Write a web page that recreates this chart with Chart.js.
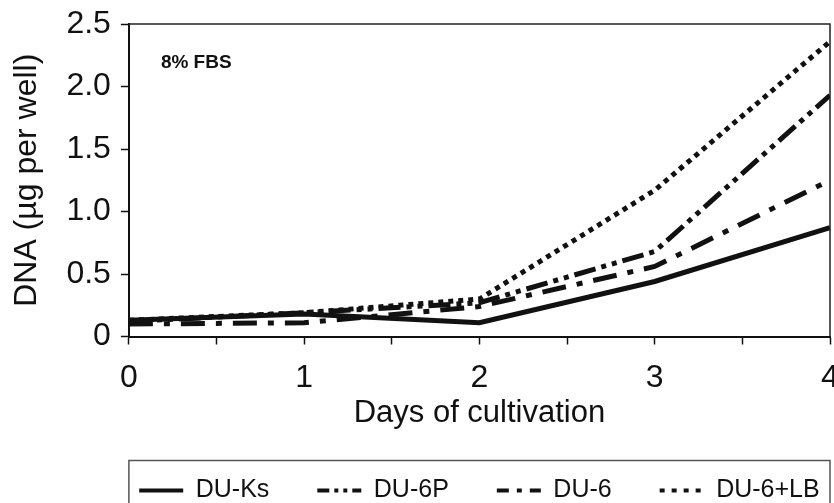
<!DOCTYPE html>
<html>
<head>
<meta charset="utf-8">
<script src="https://cdn.jsdelivr.net/npm/chart.js@4"></script>
<style>
  html, body { margin: 0; padding: 0; background: #fff; }
  #wrap { width: 834px; height: 503px; position: relative; }
</style>
</head>
<body>
<div id="wrap"><canvas id="c" width="834" height="503"></canvas></div>
<script>
// ---- data ----
const days = [0, 1, 2, 3, 4];
const seriesNames = ["DU-Ks", "DU-6P", "DU-6", "DU-6+LB"];
const duKs   = [0.13, 0.18, 0.11, 0.44, 0.87];
const du6P   = [0.12, 0.19, 0.27, 0.68, 1.93];
const du6    = [0.10, 0.11, 0.24, 0.56, 1.25];
const du6LB  = [0.13, 0.19, 0.30, 1.17, 2.36];
const yTickValues = [0, 0.5, 1.0, 1.5, 2.0, 2.5];
const xTickLabels = ["0", "1", "2", "3", "4"];
const panelLabel = "8% FBS";

// ---- styles ----
const values = [duKs, du6P, du6, du6LB];
const dashes = [[], [22, 6, 5, 6, 5, 6], [24, 11, 6, 11], [5, 5]];
const legendDashes = [[], [12, 5, 4, 5, 4, 5], [12, 8, 5, 8], [5, 7]];
const FONT = "'Liberation Sans', Arial, Helvetica, sans-serif";
const LEGEND_PAD = 48;

const datasets = seriesNames.map((name, i) => ({
  label: name,
  data: days.map((d, j) => ({ x: d, y: values[i][j] })),
  borderColor: '#111',
  backgroundColor: '#111',
  borderWidth: 5,
  borderDash: dashes[i],
  borderCapStyle: 'butt',
  borderJoinStyle: 'miter',
  pointRadius: 0,
  tension: 0,
  fill: false
}));

const framePlugin = {
  id: 'frame',
  afterLayout(chart) {
    // centre the single legend row under the plot area
    const lg = chart.legend, a = chart.chartArea;
    if (!lg || !lg.lineWidths) return;
    const p = lg.options.labels.padding;
    const total = lg.lineWidths[0] - p;
    const center = (a.left + a.right) / 2;
    lg.left = center - total / 2 - p;
    lg.right = lg.left + p + lg.lineWidths[0] + 2;
  },
  afterDraw(chart) {
    const { ctx, chartArea: a } = chart;
    ctx.save();
    ctx.strokeStyle = '#222';
    ctx.lineWidth = 1.5;
    ctx.beginPath();
    ctx.moveTo(a.left, a.top);
    ctx.lineTo(a.right, a.top);
    ctx.lineTo(a.right, a.bottom);
    ctx.stroke();
    // legend border
    const lg = chart.legend;
    const fs = lg.options.labels.font.size;
    const textCenter = lg.top + lg.options.labels.padding + fs / 2;
    const boxTop = textCenter - 30;
    ctx.strokeStyle = '#555';
    ctx.lineWidth = 1.5;
    ctx.strokeRect(a.left, boxTop, a.right - a.left, chart.height - boxTop + 10);
    // panel label
    ctx.fillStyle = '#111';
    ctx.font = "bold 19px " + FONT;
    ctx.textBaseline = 'middle';
    ctx.fillText(panelLabel, a.left + 32, a.top + 39);
    ctx.restore();
  }
};

new Chart(document.getElementById('c'), {
  type: 'line',
  data: { datasets },
  options: {
    responsive: false,
    animation: false,
    layout: { padding: { top: 24, left: 8, right: 4, bottom: -10 } },
    plugins: {
      tooltip: { enabled: false },
      legend: {
        position: 'bottom',
        fullSize: true,
        align: 'start',
        labels: {
          usePointStyle: true,
          pointStyleWidth: 44,
          boxHeight: 8,
          padding: LEGEND_PAD,
          color: '#111',
          font: { family: FONT, size: 25 },
          generateLabels(chart) {
            return chart.data.datasets.map((ds, i) => ({
              text: ds.label,
              pointStyle: 'line',
              lineWidth: 4,
              lineDash: legendDashes[i],
              strokeStyle: '#111',
              fillStyle: '#111',
              fontColor: '#111',
              datasetIndex: i,
              hidden: false
            }));
          }
        }
      }
    },
    scales: {
      x: {
        type: 'linear',
        min: 0, max: 4,
        afterFit(scale) { scale.paddingRight = 0; },
        border: { display: true, color: '#111', width: 2 },
        grid: { drawOnChartArea: false, drawTicks: true, tickLength: 8, tickColor: '#111', tickWidth: 1.5 },
        ticks: {
          stepSize: 0.5,
          autoSkip: false,
          maxRotation: 0,
          padding: 18,
          color: '#111',
          font: { family: FONT, size: 32, lineHeight: 1.0 },
          callback: (v) => Number.isInteger(v) ? xTickLabels[v] : ''
        },
        title: { display: true, text: 'Days of cultivation', color: '#111',
                 font: { family: FONT, size: 31, lineHeight: 1.0 }, padding: { top: -14.5, bottom: 1 } }
      },
      y: {
        type: 'linear',
        min: 0, max: 2.5,
        afterFit(scale) { scale.paddingTop = 0; },
        border: { display: true, color: '#111', width: 2 },
        grid: { drawOnChartArea: false, drawTicks: true, tickLength: 8, tickColor: '#111', tickWidth: 1.5 },
        afterBuildTicks(scale) { scale.ticks = yTickValues.map(v => ({ value: v })); },
        ticks: {
          padding: 10,
          color: '#111',
          font: { family: FONT, size: 32 },
          callback: (v) => v === 0 ? '0' : v.toFixed(1)
        },
        title: { display: true, text: 'DNA (µg per well)', color: '#111',
                 font: { family: FONT, size: 32 }, padding: { top: 0, bottom: 10 } }
      }
    }
  },
  plugins: [framePlugin]
});
</script>
</body>
</html>
